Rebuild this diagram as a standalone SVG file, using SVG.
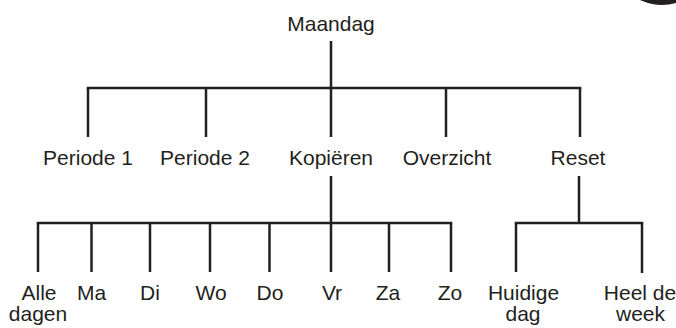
<svg xmlns="http://www.w3.org/2000/svg" width="676" height="328" viewBox="0 0 676 328">
<style>
text{font-family:"Liberation Sans",Arial,sans-serif;font-size:21px;fill:#231f20;text-anchor:middle}
.c line{stroke:#231f20;stroke-width:2.5;stroke-linecap:butt}
</style>
<rect width="676" height="328" fill="#ffffff"/>
<circle cx="662" cy="-46" r="51" fill="#231f20"/>
<g class="c" id="connectors">
<line x1="331" y1="41" x2="331" y2="88"/>
<line x1="86.75" y1="88" x2="581.25" y2="88"/>
<line x1="88" y1="88" x2="88" y2="137"/>
<line x1="206" y1="88" x2="206" y2="137"/>
<line x1="331" y1="88" x2="331" y2="137"/>
<line x1="446" y1="88" x2="446" y2="137"/>
<line x1="580" y1="88" x2="580" y2="137"/>
<line x1="331" y1="176" x2="331" y2="223"/>
<line x1="36.75" y1="223" x2="452.25" y2="223"/>
<line x1="38" y1="223" x2="38" y2="272"/>
<line x1="91.5" y1="223" x2="91.5" y2="272"/>
<line x1="150" y1="223" x2="150" y2="272"/>
<line x1="210" y1="223" x2="210" y2="272"/>
<line x1="269.5" y1="223" x2="269.5" y2="272"/>
<line x1="331" y1="223" x2="331" y2="272"/>
<line x1="389" y1="223" x2="389" y2="272"/>
<line x1="451" y1="223" x2="451" y2="272"/>
<line x1="579" y1="176" x2="579" y2="223"/>
<line x1="514.75" y1="223" x2="643.25" y2="223"/>
<line x1="516" y1="223" x2="516" y2="272"/>
<line x1="642" y1="223" x2="642" y2="273"/>
</g>
<g id="maandag"><text x="331" y="31">Maandag</text></g>
<g id="periode1"><text x="88" y="165">Periode 1</text></g>
<g id="periode2"><text x="205" y="165">Periode 2</text></g>
<g id="kopieren"><text x="331" y="165">Kopiëren</text></g>
<g id="overzicht"><text x="447" y="165">Overzicht</text></g>
<g id="reset"><text x="578" y="165">Reset</text></g>
<g id="alle"><text x="39" y="300">Alle</text><text x="38" y="321">dagen</text></g>
<g id="ma"><text x="91.5" y="300">Ma</text></g>
<g id="di"><text x="150" y="300">Di</text></g>
<g id="wo"><text x="211" y="300">Wo</text></g>
<g id="do"><text x="270" y="300">Do</text></g>
<g id="vr"><text x="332" y="300">Vr</text></g>
<g id="za"><text x="388" y="300">Za</text></g>
<g id="zo"><text x="450" y="300">Zo</text></g>
<g id="huidige"><text x="523.5" y="300">Huidige</text><text x="523" y="321">dag</text></g>
<g id="heel"><text x="640" y="300">Heel de</text><text x="640.5" y="321">week</text></g>
</svg>
